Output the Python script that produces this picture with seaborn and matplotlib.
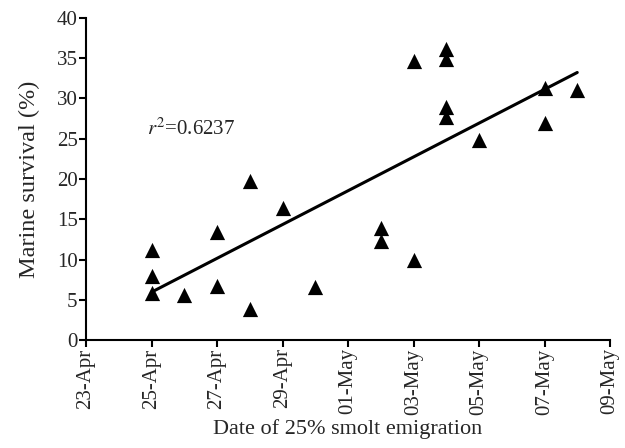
import numpy as np
import pandas as pd
import matplotlib
matplotlib.use('Agg')
import matplotlib.pyplot as plt
import seaborn as sns

# Dados (data de 25% da emigração e sobrevivência marinha)
datas = ['25-Apr', '25-Apr', '25-Apr', '26-Apr', '27-Apr', '27-Apr', '28-Apr', '28-Apr',
         '29-Apr', '30-Apr', '02-May', '02-May', '03-May', '03-May', '04-May', '04-May',
         '04-May', '04-May', '05-May', '07-May', '07-May', '08-May']
sobrevivencia = [11.2, 8.0, 5.8, 5.6, 13.4, 6.7, 19.7, 3.8,
                 16.4, 6.6, 13.9, 12.3, 9.9, 34.7, 36.1, 34.9,
                 28.9, 27.7, 24.9, 31.3, 27.0, 31.1]
rotulos_x = ['23-Apr', '25-Apr', '27-Apr', '29-Apr', '01-May', '03-May', '05-May', '07-May', '09-May']
ticks_y = [0, 5, 10, 15, 20, 25, 30, 35, 40]

inicio = pd.Timestamp('2001-04-23')
def para_dias(lista):
    return [(pd.to_datetime(d + '-2001', format='%d-%b-%Y') - inicio).days for d in lista]

dados = pd.DataFrame({'Dia': para_dias(datas), 'Sobrevivencia': sobrevivencia})

sns.set_style('ticks')
plt.rcParams['font.family'] = ['Liberation Serif', 'DejaVu Serif']
plt.rcParams['mathtext.fontset'] = 'stix'

fig = plt.figure(figsize=(6.25, 4.48), dpi=100)
ax = fig.add_axes([0.1376, 0.241, 0.8384, 0.719])

sns.regplot(x='Dia', y='Sobrevivencia', data=dados, ax=ax, ci=None, color='black',
            marker='^', scatter_kws={'s': 120, 'alpha': 1, 'linewidths': 0},
            line_kws={'linewidth': 2.2})

ax.set_xlim(0, 16)
ax.set_ylim(0, 40)
ax.set_xticks(para_dias(rotulos_x))
ax.set_xticklabels(rotulos_x, rotation=90, fontsize=15)
ax.set_yticks(ticks_y)
ax.set_yticklabels([str(v) for v in ticks_y], fontsize=15)
ax.tick_params(direction='out', length=5, width=1.5, color='black', pad=1)
for lado in ['left', 'bottom']:
    ax.spines[lado].set_linewidth(1.5)
    ax.spines[lado].set_color('black')
sns.despine(ax=ax)

ax.set_xlabel('Date of 25% smolt emigration', fontsize=16, labelpad=3)
ax.set_ylabel('Marine survival (%)', fontsize=17.5, labelpad=12)
ax.text(1.85, 26.2, r'$r^2$=0.6237', fontsize=15, va='center', ha='left')

fig.savefig('out.png', dpi=100)
